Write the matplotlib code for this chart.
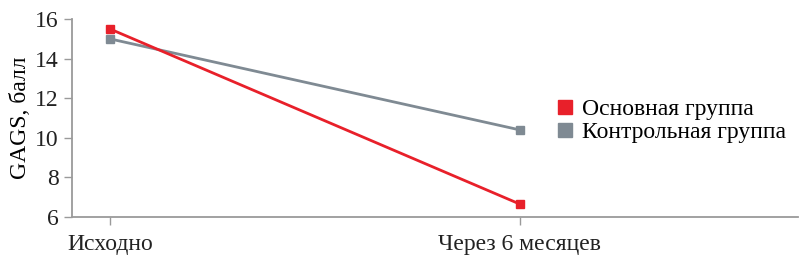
import matplotlib
matplotlib.use("Agg")
import matplotlib.pyplot as plt

plt.rcParams['font.family'] = ['Liberation Serif', 'DejaVu Serif']

# data
timepoints = ['Исходно', 'Через 6 месяцев']
main_group = [15.5, 6.65]
control_group = [15.0, 10.4]
series_names = ['Основная группа', 'Контрольная группа']
red = '#e8202a'
grey = '#7f8a93'
axis_col = '#9a9a9a'

fig = plt.figure(figsize=(8, 2.62), dpi=100)
ax = fig.add_axes([0.09, 0.172, 0.908, 0.755])

x = list(range(len(timepoints)))
ax.plot(x, main_group, color=red, lw=2, marker='s', ms=6, zorder=3)
ax.plot(x, control_group, color=grey, lw=2, marker='s', ms=6, zorder=2)

ax.set_xlim(-0.093, 1.68)
ax.set_ylim(6, 16)
ax.set_yticks([6, 8, 10, 12, 14, 16])
ax.set_xticks(x)
ax.set_xticklabels(timepoints, fontsize=17.5)
ax.set_ylabel('GAGS, балл', fontsize=17, labelpad=3)

for s in ['top', 'right']:
    ax.spines[s].set_visible(False)
for s in ['left', 'bottom']:
    ax.spines[s].set_color(axis_col)
    ax.spines[s].set_linewidth(1.3)
ax.tick_params(axis='both', colors=axis_col, labelcolor='#222222',
               labelsize=17, length=6, width=1)
ax.tick_params(axis='x', pad=6)

handles = [plt.Line2D([], [], color=c, marker='s', ms=10.5, ls='none')
           for c in (red, grey)]
ax.legend(handles, series_names, loc='upper left', bbox_to_anchor=(0.649, 0.645),
          frameon=False, fontsize=17, handletextpad=0.25, labelspacing=0.05,
          handlelength=1.0, borderaxespad=0)

fig.savefig('out.png', dpi=100)
